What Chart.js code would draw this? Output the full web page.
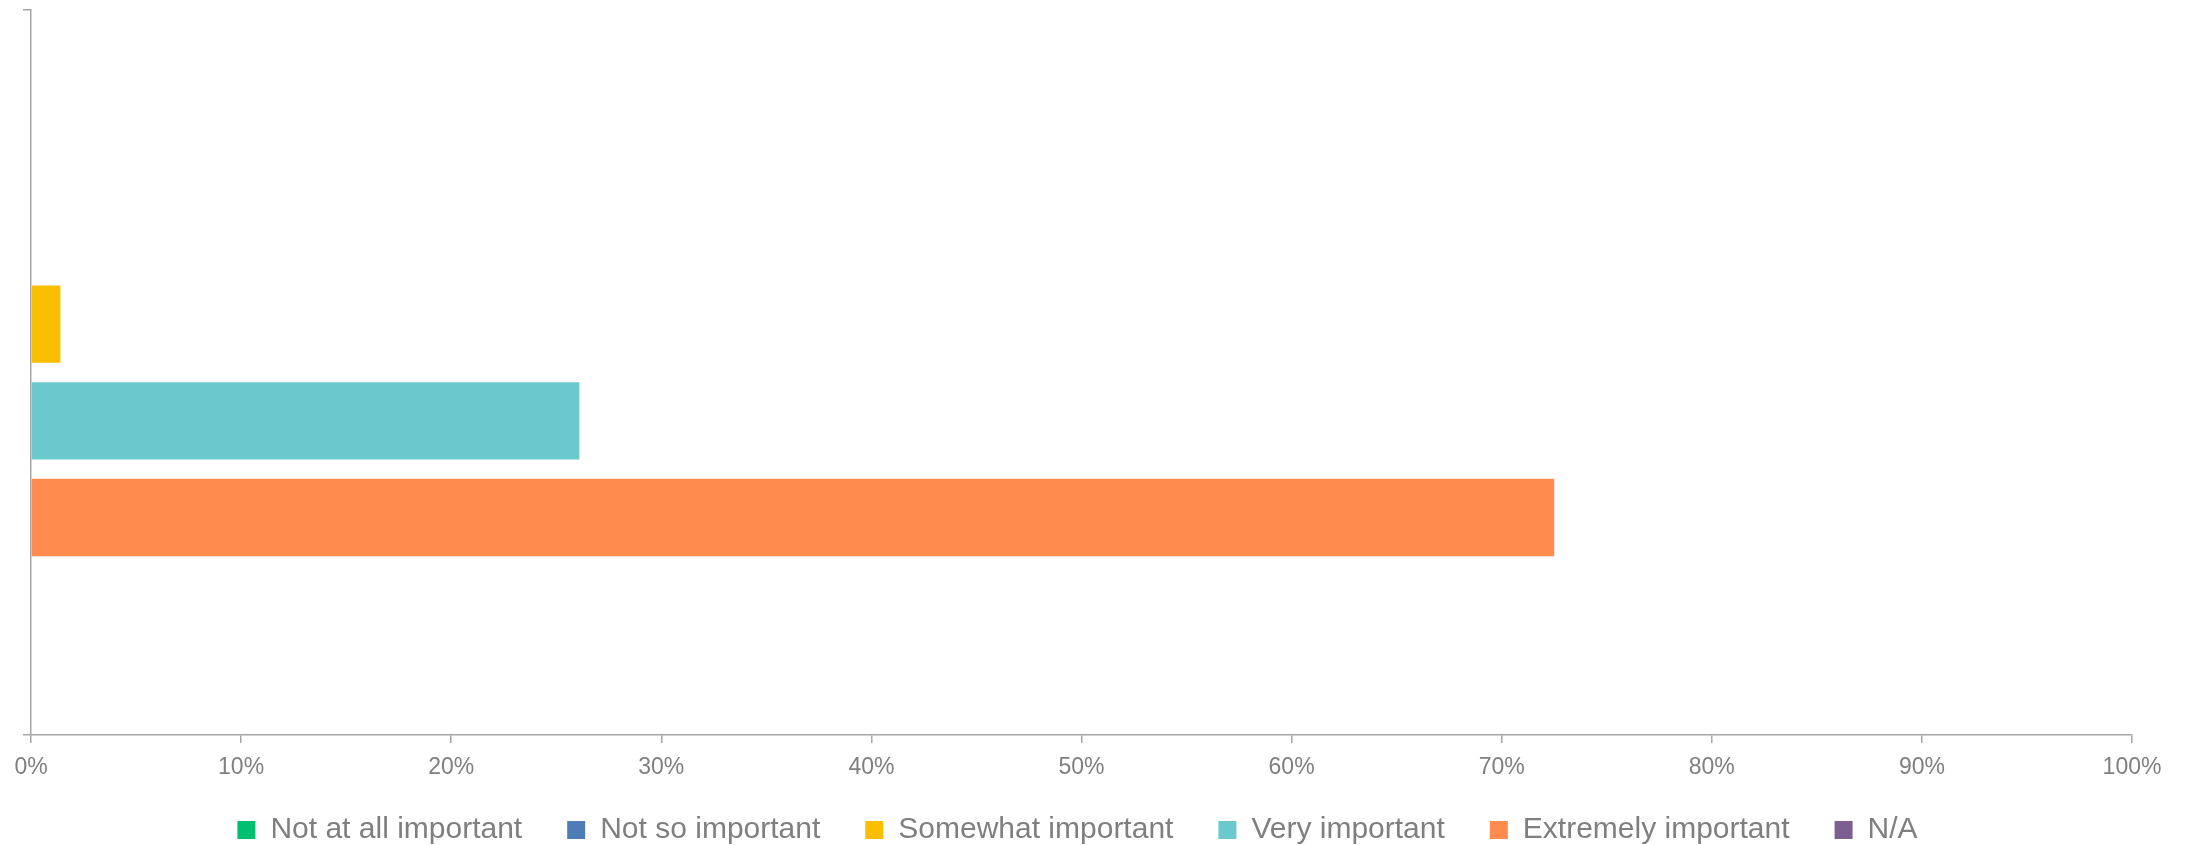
<!DOCTYPE html>
<html>
<head>
<meta charset="utf-8">
<script src="https://cdn.jsdelivr.net/npm/chart.js@4/dist/chart.umd.min.js"></script>
<style>
  html, body { margin: 0; padding: 0; background: #fff; }
  #wrap { width: 2188px; height: 845px; }
</style>
</head>
<body>
<div id="wrap"><canvas id="importance-chart"></canvas></div>
<script>
// one question, answers in percent
const categories = [''];
const seriesNames = ['Not at all important', 'Not so important', 'Somewhat important', 'Very important', 'Extremely important', 'N/A'];
const seriesColors = ['#00bf6f', '#507cb6', '#f9be00', '#6bc8cd', '#ff8b4f', '#7d5e90'];
const notAtAll = [0];
const notSo = [0];
const somewhat = [1.4];
const very = [26.1];
const extremely = [72.5];
const notApplicable = [0];
const xTicks = [0, 10, 20, 30, 40, 50, 60, 70, 80, 90, 100];

const seriesValues = [notAtAll, notSo, somewhat, very, extremely, notApplicable];
const axisGray = '#a6a6a6';
const textGray = '#7f7f7f';
const font = "'Liberation Sans', Arial, sans-serif";

const ctx = document.getElementById('importance-chart');

new Chart(ctx, {
  type: 'bar',
  data: {
    labels: categories,
    datasets: seriesNames.map((name, i) => ({
      label: name,
      data: seriesValues[i],
      backgroundColor: seriesColors[i],
      borderWidth: 0,
      barPercentage: 0.8,
      categoryPercentage: 0.8
    }))
  },
  options: {
    indexAxis: 'y',
    responsive: true,
    maintainAspectRatio: false,
    animation: false,
    layout: {
      padding: { left: 23, right: 56, top: 10, bottom: -10 }
    },
    scales: {
      x: {
        min: 0,
        max: 100,
        afterBuildTicks: axis => {
          axis.ticks = xTicks.map(v => ({ value: v }));
        },
        // keep the axis box short so the legend sits close under the labels
        afterFit: axis => {
          axis.height = 35;
        },
        border: { color: axisGray, width: 1.5 },
        grid: {
          drawOnChartArea: false,
          drawTicks: true,
          tickLength: 8,
          color: axisGray,
          lineWidth: 1.5
        },
        ticks: {
          // mirrored labels are not clipped; negative padding puts them back below the axis
          mirror: true,
          padding: -44.5,
          color: textGray,
          font: { size: 23, family: font, lineHeight: 1 },
          callback: value => value + '%'
        }
      },
      y: {
        border: { color: axisGray, width: 1.5 },
        grid: {
          drawOnChartArea: false,
          drawTicks: true,
          tickLength: 8,
          color: axisGray,
          lineWidth: 1.5
        },
        ticks: { display: false }
      }
    },
    plugins: {
      legend: {
        position: 'bottom',
        labels: {
          boxWidth: 18,
          boxHeight: 18,
          padding: 45,
          color: textGray,
          font: { size: 30, family: font }
        }
      },
      tooltip: { enabled: false }
    }
  }
});
</script>
</body>
</html>
